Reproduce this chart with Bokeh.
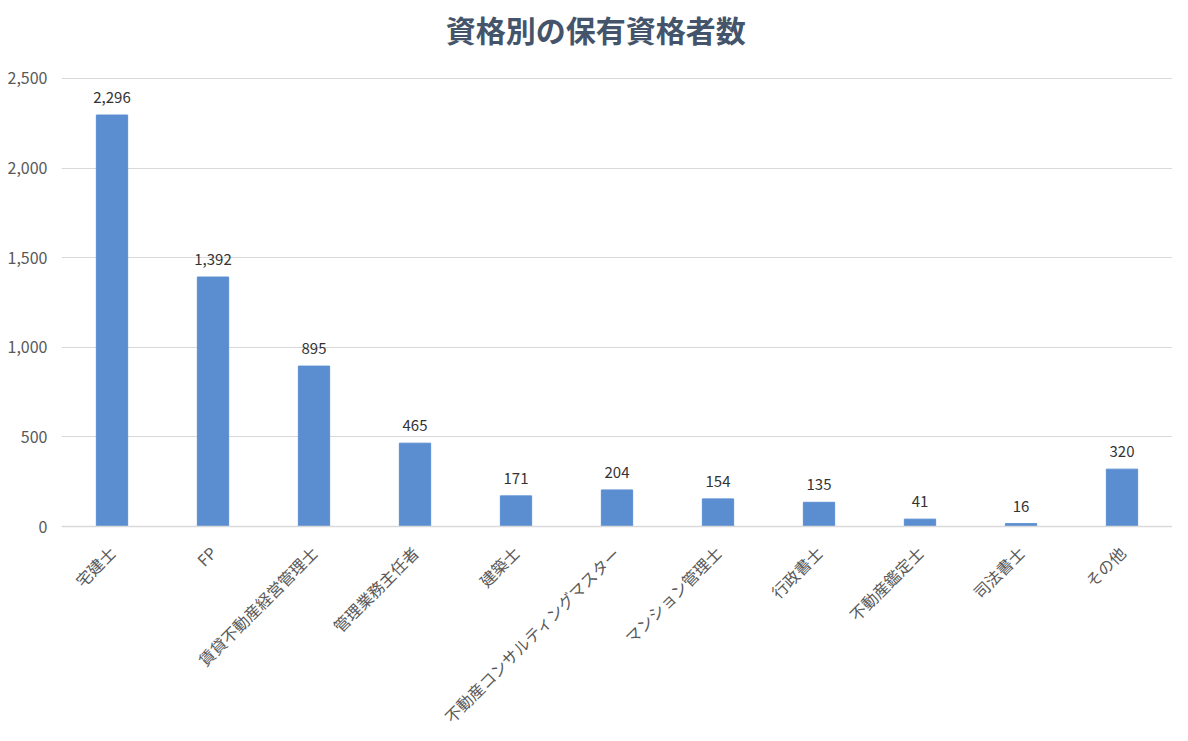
import math
from bokeh.plotting import figure
from bokeh.models import (ColumnDataSource, FixedTicker, NumeralTickFormatter,
                          Range1d, Span)
from bokeh.core.properties import value
from bokeh.embed import file_html
from bokeh.resources import INLINE

categories = ["宅建士", "FP", "賃貸不動産経営管理士", "管理業務主任者", "建築士",
              "不動産コンサルティングマスター", "マンション管理士", "行政書士",
              "不動産鑑定士", "司法書士", "その他"]
counts = [2296, 1392, 895, 465, 171, 204, 154, 135, 41, 16, 320]
labels = ["{:,}".format(v) for v in counts]
y_ticks = [0, 500, 1000, 1500, 2000, 2500]
title_text = "資格別の保有資格者数"

JP = "Noto Sans CJK JP"

src = ColumnDataSource(dict(cat=categories, val=counts, lab=labels,
                            zero=[0] * len(categories)))

# frame covers the whole figure so that title and category labels can be drawn as text
p = figure(x_range=categories, y_range=Range1d(-1155, 2935),
           width=1172, height=733, output_backend="svg", toolbar_location=None,
           min_border_left=61, min_border_right=0, min_border_top=0, min_border_bottom=0)

p.vbar(x="cat", top="val", width=0.31, source=src, color="#5B8ED1", line_color="#5B8ED1")
p.text(x="cat", y="val", text="lab", source=src, text_align="center", text_baseline="bottom",
       y_offset=-12, text_font=value(JP), text_font_size="15px", text_color="#333333")

# chart title
p.text(x=[5.29], y=[max(y_ticks)], text=[title_text], y_offset=-49,
       text_font=value(JP), text_font_size="30px", text_font_style="bold",
       text_color="#44546A", text_align="center", text_baseline="middle")

# rotated category labels
p.text(x="cat", y="zero", text="cat", source=src, angle=math.pi / 4,
       y_offset=23, text_align="right", text_baseline="middle",
       text_font=value(JP), text_font_size="16px", text_color="#595959")

p.add_layout(Span(location=0, dimension="width", line_color="#D9D9D9", line_width=1.5))

p.outline_line_color = None
p.xgrid.grid_line_color = None
p.ygrid.grid_line_color = "#D9D9D9"
p.ygrid.grid_line_width = 1

p.yaxis.ticker = FixedTicker(ticks=y_ticks)
p.yaxis.formatter = NumeralTickFormatter(format="0,0")
p.yaxis.axis_line_color = None
p.yaxis.major_tick_line_color = None
p.yaxis.minor_tick_line_color = None
p.yaxis.major_label_text_font = JP
p.yaxis.major_label_text_font_size = "16px"
p.yaxis.major_label_text_color = "#595959"
p.yaxis.major_label_standoff = 8

p.xaxis.visible = False

p.x_range.range_padding = 0

open("out.html", "w").write(file_html(p, INLINE))
